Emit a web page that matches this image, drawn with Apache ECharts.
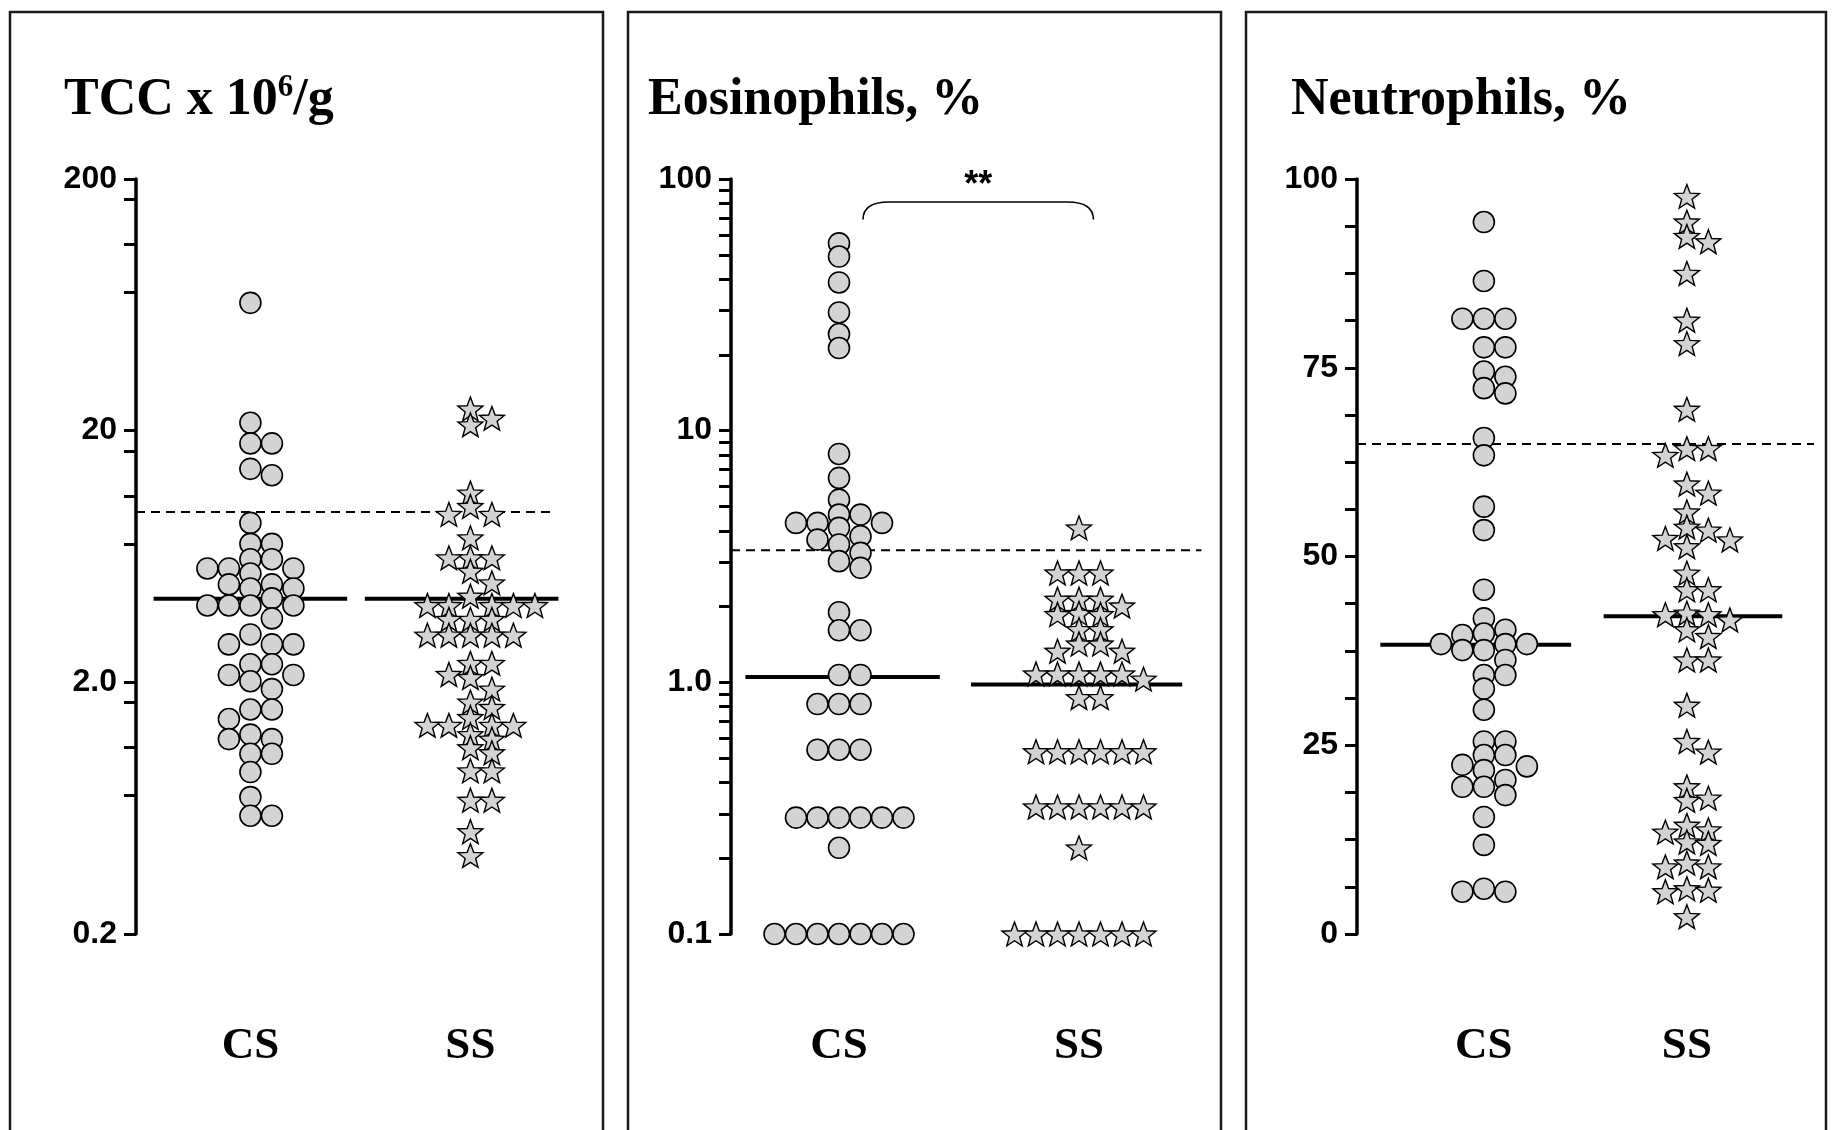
<!DOCTYPE html>
<html>
<head>
<meta charset="utf-8">
<title>TCC, Eosinophils, Neutrophils</title>
<script src="https://cdn.jsdelivr.net/npm/echarts@6.0.0/dist/echarts.min.js"></script>
<style>
html,body{margin:0;padding:0;background:#fff;}
#chart{width:1835px;height:1130px;}
</style>
</head>
<body>
<div id="chart"></div>
<script>
// ================= DATA =================
const groups = ['CS', 'SS'];

// Panel 1: TCC x 10^6/g (log scale)
const tccTitle = ['TCC x 10', '6', '/g'];
const tccCS = [64.4, 21.5, 17.8, 17.8, 14.1, 13.3, 8.6, 7.1, 7.1, 6.17, 6.17, 5.67, 5.67, 5.67, 5.41,
  4.9, 4.9, 4.72, 4.72, 4.31, 4.04, 4.04, 4.04, 4.04, 3.59, 3.1, 2.83, 2.83, 2.83, 2.36, 2.36,
  2.14, 2.14, 2.02, 1.88, 1.56, 1.56, 1.43, 1.24, 1.19, 1.19, 1.04, 1.04, 0.88, 0.70, 0.59, 0.59];
const tccSS = [24.4, 22.4, 21.1, 11.3, 10.0, 9.3, 9.3, 7.5, 6.25, 6.25, 6.25, 5.53, 4.97, 4.4,
  4.04, 4.04, 4.04, 4.04, 4.04, 3.56, 3.56, 3.56, 3.08, 3.08, 3.08, 3.08, 3.08, 2.38, 2.38,
  2.15, 2.09, 1.88, 1.67, 1.59, 1.45, 1.35, 1.35, 1.35, 1.35, 1.24, 1.19, 1.10, 1.05,
  0.89, 0.89, 0.68, 0.68, 0.51, 0.41];
const tccMedians = [4.3, 4.3];
const tccReference = 9.5;
const tccTickValues = [0.2, 2, 20, 200];
const tccTickLabels = ['0.2', '2.0', '20', '200'];
const tccMinorTicks = [0.71, 1.1, 1.66, 7.1, 11, 16.6, 71, 110, 166];

// Panel 2: Eosinophils, % (log scale)
const eosTitle = ['Eosinophils, %'];
const eosCS = [55.5, 49.2, 38.8, 29.5, 24.2, 21.3, 8.08, 6.49, 5.32, 4.64, 4.64, 4.30, 4.30, 4.30, 4.11,
  3.81, 3.69, 3.53, 3.27, 3.03, 2.85, 1.90, 1.61, 1.61, 1.07, 1.07, 0.82, 0.82, 0.82,
  0.54, 0.54, 0.54, 0.29, 0.29, 0.29, 0.29, 0.29, 0.29, 0.22,
  0.1, 0.1, 0.1, 0.1, 0.1, 0.1, 0.1];
const eosSS = [4.11, 2.72, 2.72, 2.72, 2.14, 2.14, 2.14, 2.01, 1.88, 1.86, 1.86, 1.62, 1.62,
  1.42, 1.42, 1.33, 1.33, 1.08, 1.08, 1.08, 1.08, 1.08, 1.03, 0.87, 0.87,
  0.53, 0.53, 0.53, 0.53, 0.53, 0.53, 0.32, 0.32, 0.32, 0.32, 0.32, 0.32, 0.22,
  0.1, 0.1, 0.1, 0.1, 0.1, 0.1, 0.1];
const eosMedians = [1.05, 0.98];
const eosReference = 3.35;
const eosTickValues = [0.1, 1, 10, 100];
const eosTickLabels = ['0.1', '1.0', '10', '100'];
const eosMinorTicks = [0.2, 0.3, 0.4, 0.5, 0.6, 0.7, 0.8, 0.9, 2, 3, 4, 5, 6, 7, 8, 9,
  20, 30, 40, 50, 60, 70, 80, 90];
const eosSignificance = '**';

// Panel 3: Neutrophils, % (linear)
const neuTitle = ['Neutrophils, %'];
const neuCS = [94.3, 86.5, 81.5, 81.5, 81.5, 77.7, 77.7, 74.5, 73.8, 72.3, 71.6, 65.7, 63.4, 56.6, 53.5,
  45.6, 41.8, 39.8, 39.6, 40.3, 38.4, 38.4, 37.6, 38.4, 37.6, 36.3, 34.3, 34.3, 32.5, 29.7,
  25.5, 25.5, 23.7, 23.7, 22.2, 21.7, 22.4, 20.4, 19.5, 19.5, 18.4, 15.5, 11.8, 5.6, 6.0, 5.6];
const neuSS = [97.7, 94.3, 92.4, 91.7, 87.5, 81.3, 78.2, 69.5, 64.3, 63.4, 64.3, 59.6, 58.4, 55.9,
  53.5, 53.9, 52.4, 52.2, 51.3, 47.8, 45.6, 45.6, 41.6, 42.5, 42.3, 42.3, 40.3, 39.4, 36.3, 36.3,
  30.3, 25.5, 24.1, 19.5, 18.0, 17.7, 13.8, 13.5, 14.4, 12.2, 12.0, 8.9, 8.9, 9.4, 5.8, 5.6, 6.0, 2.3];
const neuMedians = [38.3, 42.1];
const neuReference = 64.9;
const neuTickValues = [0, 25, 50, 75, 100];
const neuTickLabels = ['0', '25', '50', '75', '100'];

// ================= LAYOUT / STYLE =================
const D = [
  {title: tccTitle, values: [tccCS, tccSS], medians: tccMedians, ref: tccReference,
   tickValues: tccTickValues, tickLabels: tccTickLabels, minorTicks: tccMinorTicks},
  {title: eosTitle, values: [eosCS, eosSS], medians: eosMedians, ref: eosReference,
   tickValues: eosTickValues, tickLabels: eosTickLabels, minorTicks: eosMinorTicks},
  {title: neuTitle, values: [neuCS, neuSS], medians: neuMedians, ref: neuReference,
   tickValues: neuTickValues, tickLabels: neuTickLabels, minorTicks: []}
];
const P = [
  {left: 136, unit: 220, xmin: 0.48, xmax: 2.5, log: true, min: 0.2, max: 200,
   dash: [0.48, 2.377], medX: [[0.56, 1.44], [1.52, 2.40]], titleLeft: 64, box: [10, 603]},
  {left: 731, unit: 240, xmin: 0.55, xmax: 2.6, log: true, min: 0.1, max: 100,
   dash: [0.55, 2.51], medX: [[0.61, 1.42], [1.55, 2.43]], titleLeft: 648, box: [628, 1221]},
  {left: 1357, unit: 203, xmin: 0.375, xmax: 2.7, log: false, min: 0, max: 100,
   dash: [0.375, 2.626], medX: [[0.49, 1.43], [1.59, 2.47]], titleLeft: 1291, box: [1246, 1826]}
];
const GRID_TOP = 179, GRID_H = 755;
const SPACING = 21.5;  // px between beeswarm columns
const MIN_DY = 13;     // px minimal vertical gap in the same column
const FILL = '#d3d3d3';

function starPath() {
  let d = '';
  for (let i = 0; i < 10; i++) {
    const r = i % 2 ? 0.42 : 1;
    const a = -Math.PI / 2 + i * Math.PI / 5;
    d += (i ? 'L' : 'M') + (r * Math.cos(a)).toFixed(4) + ' ' + (r * Math.sin(a)).toFixed(4);
  }
  return 'path://' + d + 'Z';
}
const STAR = starPath();

let useLog = true;
function Y(i, v) {
  return (P[i].log && !useLog) ? Math.log10(v) : v;
}
function labelFor(i, v) {
  const d = D[i];
  if (!P[i].log) {
    const k = d.tickValues.findIndex(t => Math.abs(t - v) < 1e-6);
    return k >= 0 ? d.tickLabels[k] : '';
  }
  const lv = useLog ? Math.log10(v) : v;
  let k = d.tickValues.findIndex(t => Math.abs(Math.log10(t) - lv) < 0.02);
  if (k < 0) k = d.tickValues.findIndex(t => Math.abs(t - v) < 1e-6);
  return k >= 0 ? d.tickLabels[k] : '';
}

const tickLine = {color: '#000', width: 3};
function yAxisFor(i) {
  const p = P[i], d = D[i];
  const base = {
    gridIndex: i, position: 'left',
    axisLine: {show: true, onZero: false, lineStyle: {color: '#000', width: 3.5}},
    splitLine: {show: false},
  };
  const lbl = {margin: 19, color: '#000', fontFamily: 'Liberation Sans', fontWeight: 'bold', fontSize: 32,
    formatter: v => labelFor(i, v)};
  if (!p.log) {
    return Object.assign(base, {
      type: 'value', min: p.min, max: p.max, interval: 25,
      axisTick: {show: true, length: 12, lineStyle: tickLine},
      minorTick: {show: true, splitNumber: 4, length: 12, lineStyle: tickLine},
      axisLabel: lbl
    });
  }
  const tf = v => Y(i, v);
  return Object.assign(base, {
    type: useLog ? 'log' : 'value', logBase: 10,
    min: tf(p.min), max: tf(p.max),
    axisTick: {show: true, length: 12, lineStyle: tickLine,
      customValues: d.tickValues.concat(d.minorTicks).map(tf)},
    axisLabel: Object.assign(lbl, {customValues: d.tickValues.map(tf)})
  });
}

function build(pos) {
  const option = {
    animation: false,
    backgroundColor: '#fff',
    title: D.map((d, i) => ({
      text: d.title.length === 3 ? '{b|' + d.title[0] + '}{s|' + d.title[1] + '}{b|' + d.title[2] + '}' : '{b|' + d.title[0] + '}',
      left: P[i].titleLeft, top: 72, padding: 0,
      textStyle: {rich: {
        b: {fontFamily: 'Liberation Serif', fontWeight: 'bold', fontSize: 52, color: '#000', lineHeight: 58},
        s: {fontFamily: 'Liberation Serif', fontWeight: 'bold', fontSize: 31, color: '#000', lineHeight: 30, verticalAlign: 'top'}
      }}
    })),
    grid: P.map(p => ({left: p.left, top: GRID_TOP, height: GRID_H,
      width: (p.xmax - p.xmin) * p.unit, containLabel: false})),
    xAxis: P.map((p, i) => ({
      type: 'value', gridIndex: i, min: p.xmin, max: p.xmax,
      axisLine: {show: false, onZero: false}, axisTick: {show: false}, splitLine: {show: false},
      axisLabel: {customValues: [1, 2], formatter: v => groups[Math.round(v) - 1] || '',
        margin: 90, color: '#000', fontFamily: 'Liberation Serif', fontWeight: 'bold', fontSize: 45}
    })),
    yAxis: P.map((p, i) => yAxisFor(i)),
    graphic: P.map(p => ({type: 'rect', silent: true, z: -10,
      shape: {x: p.box[0], y: 12, width: p.box[1] - p.box[0], height: 1300},
      style: {fill: null, stroke: '#1a1a1a', lineWidth: 2.5}})),
    series: []
  };
  D.forEach((d, i) => {
    const p = P[i];
    option.series.push({type: 'line', xAxisIndex: i, yAxisIndex: i, silent: true, z: 1,
      symbol: 'none', data: [[p.dash[0], Y(i, d.ref)], [p.dash[1], Y(i, d.ref)]],
      lineStyle: {color: '#000', width: 2, type: [9, 6]}});
    d.medians.forEach((m, g) => {
      option.series.push({type: 'line', xAxisIndex: i, yAxisIndex: i, silent: true, z: 1,
        symbol: 'none', data: [[p.medX[g][0], Y(i, m)], [p.medX[g][1], Y(i, m)]],
        lineStyle: {color: '#000', width: 4}});
    });
    d.values.forEach((vals, g) => {
      option.series.push({
        type: 'scatter', name: groups[g], xAxisIndex: i, yAxisIndex: i, z: 3, silent: true,
        symbol: g === 0 ? 'circle' : STAR, symbolSize: g === 0 ? 21 : 25, symbolKeepAspect: true,
        itemStyle: {color: FILL, borderColor: '#000', borderWidth: g === 0 ? 1.6 : 1.4, opacity: 1},
        data: pos ? pos[i][g] : vals.map(v => [g + 1, Y(i, v)])
      });
    });
  });
  // significance bracket between CS and SS in the eosinophil panel
  option.series.push({
    type: 'custom', xAxisIndex: 1, yAxisIndex: 1, silent: true, z: 4, clip: false,
    data: [[1.58, Y(1, 81)]],
    renderItem: (params, api) => {
      const a = api.coord([1.10, Y(1, 69)]);
      const b = api.coord([2.06, Y(1, 69)]);
      const top = api.coord([1.10, Y(1, 81)])[1];
      const rx = 26;
      return {type: 'group', children: [
        {type: 'path', shape: {pathData:
          'M' + a[0] + ' ' + a[1] + ' Q' + a[0] + ' ' + top + ' ' + (a[0] + rx) + ' ' + top +
          ' L' + (b[0] - rx) + ' ' + top + ' Q' + b[0] + ' ' + top + ' ' + b[0] + ' ' + b[1]},
         style: {fill: null, stroke: '#000', lineWidth: 1.6}},
        {type: 'text', style: {text: eosSignificance, x: (a[0] + b[0]) / 2, y: top - 16,
          align: 'center', verticalAlign: 'middle', fill: '#000',
          font: 'bold 36px "Liberation Sans"'}}
      ]};
    }
  });
  return option;
}

const chart = echarts.init(document.getElementById('chart'), null, {renderer: 'canvas', width: 1835, height: 1130});
chart.setOption(build(null), true);

// verify that the log axis honours the custom ticks; otherwise use log10-transformed value axes
let ok = false;
try {
  const ax = chart.getModel().getComponent('yAxis', 0).axis;
  const coords = ax.getTicksCoords().map(t => t.coord);
  const labels = ax.getViewLabels();
  const c20 = chart.convertToPixel({yAxisIndex: 0}, 20);
  ok = coords.length === 13 && labels.length === 4 &&
    coords.some(c => Math.abs(c - GRID_TOP) < 3) &&
    coords.some(c => Math.abs(c - (GRID_TOP + GRID_H)) < 3) &&
    coords.some(c => Math.abs(c - c20) < 2) && Math.abs(c20 - (GRID_TOP + GRID_H / 3)) < 3;
} catch (e) { ok = false; }
if (!ok) {
  useLog = false;
  chart.setOption(build(null), true);
}

// beeswarm layout: place each point in the nearest free column
function layout() {
  return D.map((d, i) => {
    const unitPx = chart.convertToPixel({xAxisIndex: i}, 2) - chart.convertToPixel({xAxisIndex: i}, 1);
    return d.values.map((vals, g) => {
      const items = vals.map(v => ({v: v, py: chart.convertToPixel({yAxisIndex: i}, Y(i, v))}));
      items.sort((a, b) => a.py - b.py);
      const slots = {};
      const res = [];
      items.forEach(it => {
        for (let k = 0; k < 60; k++) {
          const s = k === 0 ? 0 : (k % 2 ? (k + 1) / 2 : -k / 2);
          const arr = slots[s] || (slots[s] = []);
          if (arr.every(y => Math.abs(y - it.py) >= MIN_DY)) {
            arr.push(it.py);
            res.push([g + 1 + s * SPACING / unitPx, Y(i, it.v)]);
            break;
          }
        }
      });
      return res;
    });
  });
}
chart.setOption(build(layout()), true);
</script>
</body>
</html>
